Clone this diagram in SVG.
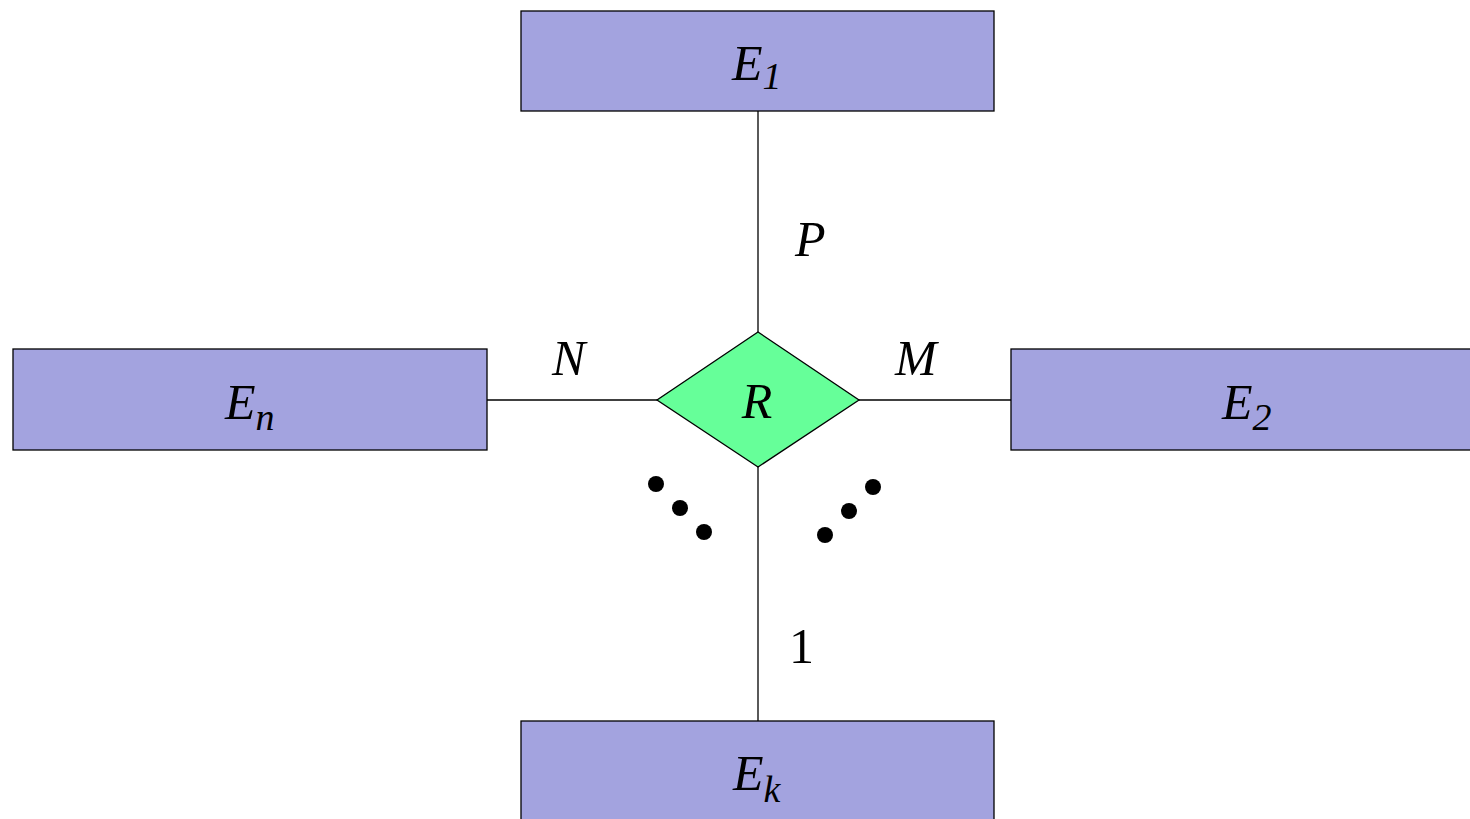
<svg xmlns="http://www.w3.org/2000/svg" width="1470" height="819" viewBox="0 0 1470 819">
<style>
.ent{fill:#a3a3df;stroke:#000;stroke-width:1.3}
.rel{fill:#66ff99;stroke:#000;stroke-width:1.3}
.ln{stroke:#000;stroke-width:1.3;fill:none}
.t{font-family:"Liberation Serif","Times New Roman",serif;font-style:italic;font-size:50px;fill:#000}
.s{font-size:38px}
.n{font-family:"Liberation Serif","Times New Roman",serif;font-size:50px;fill:#000}
</style>
<rect width="1470" height="819" fill="#fff"/>
<g id="connectors">
<line class="ln" x1="758" y1="111" x2="758" y2="332"/>
<line class="ln" x1="487" y1="400" x2="657" y2="400"/>
<line class="ln" x1="859" y1="400" x2="1011" y2="400"/>
<line class="ln" x1="758" y1="467" x2="758" y2="721"/>
<text class="t" x="795" y="256">P</text>
<text class="t" x="552" y="375">N</text>
<text class="t" x="895" y="375">M</text>
<text class="n" x="789" y="663">1</text>
</g>
<g id="E1"><rect class="ent" x="521" y="11" width="473" height="100"/><text class="t" x="732" y="80">E<tspan class="s" dy="9">1</tspan></text></g>
<g id="En"><rect class="ent" x="13" y="349" width="474" height="101"/><text class="t" x="225" y="419">E<tspan class="s" dy="11">n</tspan></text></g>
<g id="E2"><rect class="ent" x="1011" y="349" width="470" height="101"/><text class="t" x="1222" y="419">E<tspan class="s" dy="11">2</tspan></text></g>
<g id="Ek"><rect class="ent" x="521" y="721" width="473" height="110"/><text class="t" x="733" y="790">E<tspan class="s" dy="12">k</tspan></text></g>
<g id="R"><polygon class="rel" points="758,332 859,400 758,467 657,400"/><text class="t" x="757" y="418" text-anchor="middle">R</text></g>
<g id="dots">
<circle cx="656" cy="484" r="8"/><circle cx="680" cy="508" r="8"/><circle cx="704" cy="532" r="8"/>
<circle cx="873" cy="487" r="8"/><circle cx="849" cy="511" r="8"/><circle cx="825" cy="535" r="8"/>
</g>
</svg>
